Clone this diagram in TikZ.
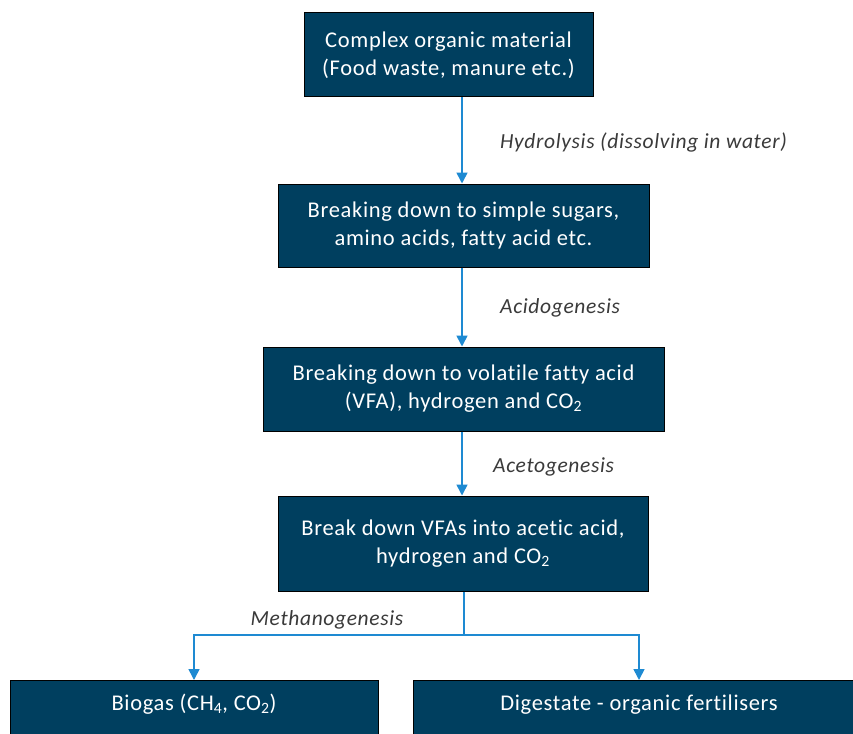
\documentclass[tikz,border=0pt]{standalone}
\usepackage{fontspec}
\setmainfont{Carlito}[LetterSpace=3,Ligatures=NoCommon]
\usetikzlibrary{arrows.meta}
\definecolor{navy}{HTML}{003F5F}
\definecolor{arrblue}{HTML}{1E8AD2}
\definecolor{lbl}{HTML}{3A3A3A}
\tikzset{
  box/.style={draw=black, line width=1pt, fill=navy, text=white, align=center, font=\fontsize{22.5}{28}\selectfont, inner sep=0pt},
  lab/.style={text=lbl, font=\fontsize{21.5}{25}\selectfont\itshape, inner sep=0pt},
  conn/.style={draw=arrblue, line width=1.6pt},
  arr/.style={conn, -{Triangle[width=11pt,length=11pt]}}
}
\begin{document}
\begin{tikzpicture}[x=1pt,y=-1pt]
\useasboundingbox (0,0) rectangle (853,733);
\clip (0,0) rectangle (853,733);
\fill[white] (0,0) rectangle (853,733);
\coordinate (ax) at (462,0);
\node[box, minimum width=289, minimum height=84] (b1) at (448.5,55) {Complex organic material\\(Food waste, manure etc.)};
\node[box, minimum width=371, minimum height=83] (b2) at (463.5,225.5) {Breaking down to simple sugars,\\amino acids, fatty acid etc.};
\node[box, minimum width=401, minimum height=84] (b3) at (463.5,389) {Breaking down to volatile fatty acid\\(VFA), hydrogen and CO\textsubscript{2}};
\node[box, minimum width=370, minimum height=95] (b4) at (463,543.5) {Break down VFAs into acetic acid,\\hydrogen and CO\textsubscript{2}};
\node[box, minimum width=368, anchor=north, text height=24pt, text depth=70pt, inner ysep=6pt] (b5) at (194,680) {Biogas (CH\textsubscript{4}, CO\textsubscript{2})};
\node[box, minimum width=452, anchor=north, text height=24pt, text depth=70pt, inner ysep=6pt] (b6) at (639,680) {Digestate - organic fertilisers};
\draw[arr] (b1.south -| ax) -- (b2.north -| ax);
\draw[arr] (b2.south -| ax) -- (b3.north -| ax);
\draw[arr] (b3.south -| ax) -- (b4.north -| ax);
\coordinate (split) at (464,635);
\draw[conn] (b4.south -| split) -- (split);
\draw[arr] (split) -| (b5.north);
\draw[arr] (split) -| (b6.north);
\node[lab, anchor=west] (l1) at (500,142) {Hydrolysis (dissolving in water)};
\node[lab, anchor=west] (l2) at (500,308) {Acidogenesis};
\node[lab, anchor=west] (l3) at (493,467) {Acetogenesis};
\node[lab] (l4) at (327,620) {Methanogenesis};
\end{tikzpicture}
\end{document}
